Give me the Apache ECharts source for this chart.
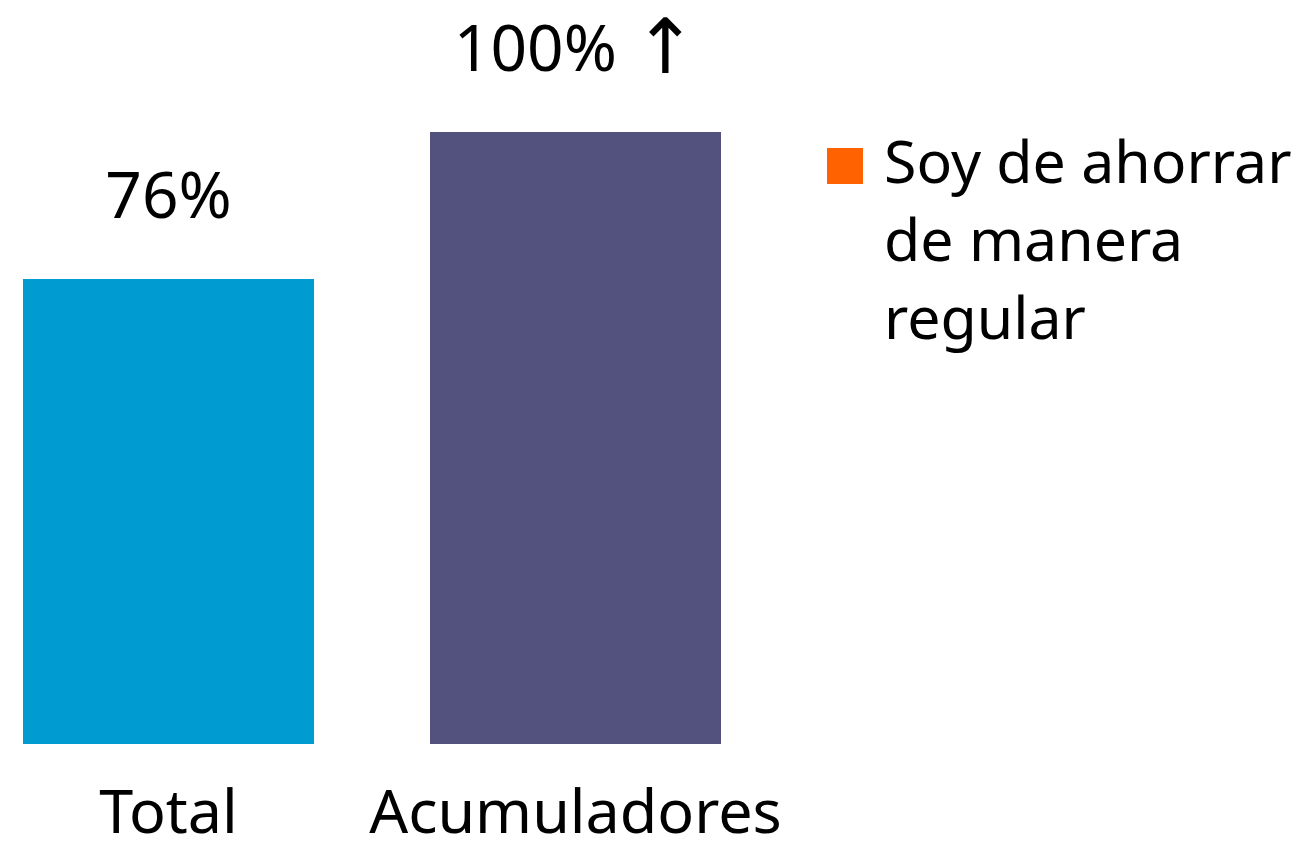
<!DOCTYPE html>
<html lang="es">
<head>
    <meta charset="utf-8">
    <script src="https://cdn.jsdelivr.net/npm/echarts@6/dist/echarts.min.js"></script>
    <style>
        html, body { margin: 0; padding: 0; background: #ffffff; }
        #chart { width: 1307px; height: 846px; }
    </style>
</head>
<body>
<div id="chart"></div>
<script type="text/javascript">
    // datos
    var categories = ['Total', 'Acumuladores'];
    var values = [76, 100];
    var barColors = ['#009CD1', '#53527F'];
    var labelArrows = ['', '\u2191'];
    var seriesName = 'Soy de ahorrar\nde manera\nregular';

    var chart = echarts.init(document.getElementById('chart'));
    var font = '"Noto Sans", sans-serif';

    var option = {
        animation: false,
        grid: { left: 168.5, right: 731.5, top: 132, bottom: 102, containLabel: false, outerBoundsMode: 'none' },
        legend: {
            left: 827,
            top: -29,
            padding: 0,
            itemWidth: 36,
            itemHeight: 36,
            icon: 'rect',
            data: [{ name: seriesName, itemStyle: { color: '#FF6200' } }],
            // dos líneas vacías delante para que el cuadrado quede a la altura de la primera línea
            formatter: function (name) { return ' \n \n' + name; },
            textStyle: {
                fontFamily: font,
                fontSize: 59,
                color: '#000',
                lineHeight: 78,
                padding: [0, 0, 0, 16]
            }
        },
        xAxis: {
            type: 'category',
            data: categories,
            boundaryGap: false,
            axisLine: { show: false },
            axisTick: { show: false },
            axisLabel: { interval: 0, fontFamily: font, fontSize: 61, color: '#000', margin: 41 }
        },
        yAxis: {
            type: 'value',
            min: 0,
            max: 100,
            show: false,
            splitLine: { show: false }
        },
        series: [{
            name: seriesName,
            type: 'bar',
            barWidth: 291,
            itemStyle: { color: '#FF6200' },
            data: values.map(function (v, i) {
                return { value: v, itemStyle: { color: barColors[i] } };
            }),
            label: {
                show: true,
                position: 'top',
                distance: 39,
                fontFamily: font,
                fontSize: 64,
                color: '#000',
                formatter: function (p) {
                    var arrow = labelArrows[p.dataIndex];
                    return '{v|' + p.value + '%}' + (arrow ? ' {a|' + arrow + '}' : '');
                },
                rich: {
                    v: { fontFamily: font, fontSize: 64, lineHeight: 80, color: '#000' },
                    a: { fontFamily: '"DejaVu Sans", sans-serif', fontSize: 76, lineHeight: 80, color: '#000' }
                }
            }
        }]
    };
    chart.setOption(option);
</script>
</body>
</html>
